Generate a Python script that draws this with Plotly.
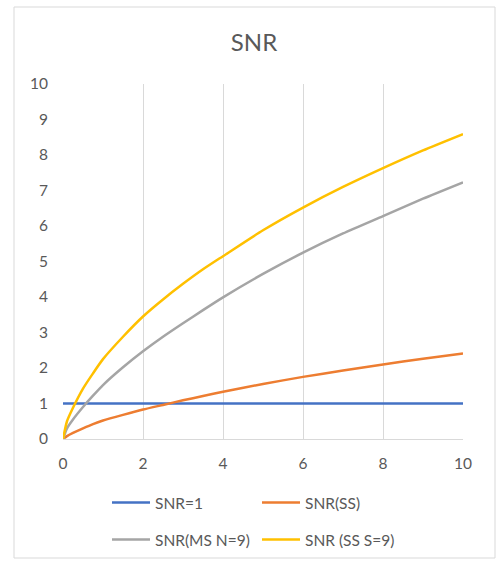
import plotly.graph_objects as go

x_vals = [0, 0.1, 0.25, 0.5, 0.75, 1, 1.5, 2, 2.5, 3, 3.5, 4, 5, 6, 7, 8, 9, 10]
snr_one = [1] * len(x_vals)
snr_ss = [0, 0.08, 0.17, 0.30, 0.42, 0.52, 0.68, 0.83, 0.96, 1.09, 1.21, 1.33, 1.55, 1.75, 1.93, 2.10, 2.26, 2.41]
snr_ms9 = [0, 0.30, 0.55, 0.90, 1.22, 1.52, 2.02, 2.47, 2.88, 3.26, 3.63, 3.99, 4.65, 5.25, 5.79, 6.28, 6.77, 7.23]
snr_ss9 = [0, 0.50, 0.88, 1.42, 1.85, 2.25, 2.88, 3.45, 3.93, 4.37, 4.78, 5.15, 5.88, 6.52, 7.10, 7.63, 8.13, 8.59]

tick_vals_x = [0, 2, 4, 6, 8, 10]
tick_vals_y = [0, 1, 2, 3, 4, 5, 6, 7, 8, 9, 10]

FONT = "Lato"
TXT = "#595959"
GRID = "#D9D9D9"

fig = go.Figure()
series = [
    ("SNR=1", snr_one, "#4472C4", "legend"),
    ("SNR(SS)", snr_ss, "#ED7D31", "legend"),
    ("SNR(MS N=9)", snr_ms9, "#A5A5A5", "legend2"),
    ("SNR (SS S=9)", snr_ss9, "#FFC000", "legend2"),
]
for name, ys, col, lg in series:
    fig.add_trace(go.Scatter(
        x=x_vals, y=ys, mode="lines", name=name,
        line=dict(color=col, width=2.5, shape="spline", smoothing=0.6),
        legend=lg, cliponaxis=False,
    ))

W, H = 501, 561
L, R, T, B = 63, 38, 84, 122
pw, ph = W - L - R, H - T - B

def px_x(p):
    return (p - L) / pw

def px_y(p):
    return (H - B - p) / ph

leg_common = dict(orientation="h", x=px_x(107), xanchor="left", yref="container",
                  yanchor="middle", entrywidth=97, entrywidthmode="pixels",
                  itemwidth=38,
                  font=dict(size=15.5, color=TXT, family=FONT), bgcolor="rgba(0,0,0,0)")

fig.update_layout(
    width=W, height=H,
    margin=dict(l=L, r=R, t=T, b=B, autoexpand=False),
    paper_bgcolor="white", plot_bgcolor="white",
    font=dict(family=FONT, color=TXT, size=15),
    title=dict(text="SNR", x=px_x(254), xref="paper", xanchor="center",
               y=1 - 43 / H, yref="container", yanchor="middle",
               font=dict(size=24, color=TXT, family=FONT)),
    xaxis=dict(range=[0, 10], tickvals=tick_vals_x, showgrid=True, gridcolor=GRID,
               gridwidth=1, zeroline=False, showline=True, linecolor=GRID,
               ticks="", ticklabelstandoff=10, automargin=False,
               tickfont=dict(size=15.5, color=TXT)),
    yaxis=dict(range=[0, 10], tickvals=tick_vals_y, showgrid=False, zeroline=False,
               showline=False, ticks="", ticklabelstandoff=14, automargin=False,
               tickfont=dict(size=15.5, color=TXT)),
    legend=dict(y=1 - 503 / H, **leg_common),
    legend2=dict(y=1 - 540 / H, **leg_common),
    shapes=[dict(type="rect", xref="paper", yref="paper",
                 x0=px_x(14), x1=px_x(495), y0=px_y(558), y1=px_y(7),
                 line=dict(color=GRID, width=1), layer="below")],
    showlegend=True,
)

fig.write_html("out.html", config={"displayModeBar": False},
               post_script="document.body.style.margin='0';")
